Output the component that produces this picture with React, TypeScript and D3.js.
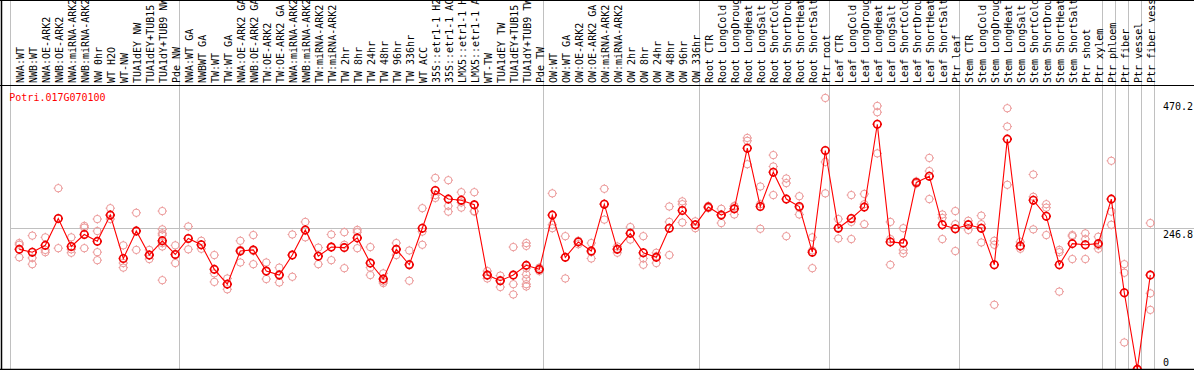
import React from 'react';
import * as d3 from 'd3';

const labels: string[] = [
  'NWA:WT', 'NWB:WT', 'NWA:OE-ARK2', 'NWB:OE-ARK2', 'NWA:miRNA-ARK2', 'NWB:miRNA-ARK2',
  'NW 0hr', 'WT H2O', 'WT-NW', 'TUA1dEY NW', 'TUA1dEY+TUB15 NW', 'TUA1dY+TUB9 NW', 'Pde NW',
  'NWA:WT GA', 'NWBWT GA', 'TW:WT', 'TW:WT GA', 'NWA:OE-ARK2 GA', 'NWB:OE-ARK2 GA',
  'TW:OE-ARK2', 'TW:OE-ARK2 GA', 'NWA:miRNA-ARK2 GA', 'NWB:miRNA-ARK2 GA', 'TW:miRNA-ARK2',
  'TW:miRNA-ARK2 GA', 'TW 2hr', 'TW 8hr', 'TW 24hr', 'TW 48hr', 'TW 96hr', 'TW 336hr', 'WT ACC',
  '35S::etr1-1 H2O', '35S::etr1-1 ACC', 'LMX5::etr1-1 H2O', 'LMX5::etr1-1 ACC', 'WT-TW',
  'TUA1dEY TW', 'TUA1dEY+TUB15 TW', 'TUA1dY+TUB9 TW', 'Pde TW',
  'OW:WT', 'OW:WT GA', 'OW:OE-ARK2', 'OW:OE-ARK2 GA', 'OW:miRNA-ARK2', 'OW:miRNA-ARK2 GA',
  'OW 2hr', 'OW 8hr', 'OW 24hr', 'OW 48hr', 'OW 96hr', 'OW 336hr',
  'Root CTR', 'Root LongCold', 'Root LongDrought', 'Root LongHeat', 'Root LongSalt',
  'Root ShortCold', 'Root ShortDrought', 'Root ShortHeat', 'Root ShortSalt', 'Ptr root',
  'Leaf CTR', 'Leaf LongCold', 'Leaf LongDrought', 'Leaf LongHeat', 'Leaf LongSalt',
  'Leaf ShortCold', 'Leaf ShortDrought', 'Leaf ShortHeat', 'Leaf ShortSalt', 'Ptr leaf',
  'Stem CTR', 'Stem LongCold', 'Stem LongDrought', 'Stem LongHeat', 'Stem LongSalt',
  'Stem ShortCold', 'Stem ShortDrought', 'Stem ShortHeat', 'Stem ShortSalt', 'Ptr shoot',
  'Ptr xylem', 'Ptr phloem', 'Ptr fiber', 'Ptr vessel', 'Ptr fiber vessel',
];

const means: number[] = [
  210, 205, 217, 264, 215, 236, 224, 270, 194, 242, 200, 225, 201,
  229, 218, 175, 149, 207, 209, 172, 165, 200, 244, 198, 214, 213, 230, 186, 158, 210, 183, 247,
  313, 298, 296, 288, 165, 155, 165, 182, 175,
  270, 196, 223, 207, 289, 210, 238, 204, 196, 247, 278, 253,
  284, 270, 281, 387, 285, 345, 298, 285, 205, 383,
  247, 264, 284, 429, 223, 221, 327, 338, 253, 246,
  253, 247, 183, 403, 216, 296, 268, 183, 220, 218, 220,
  298, 134, 0, 165,
];

const replicates: number[][] = [
  [221, 218, 196], [234, 195, 184], [231, 209, 205], [317, 264, 212], [231, 210, 204],
  [251, 248, 212], [263, 242, 205, 191], [282, 270, 263], [217, 186, 178], [274, 243, 209],
  [209, 200, 193], [277, 245, 238, 235, 221, 215, 156], [217, 201, 186],
  [250, 229, 210], [225, 218, 211], [200, 168, 153], [159, 149, 140], [225, 209, 187],
  [235, 207, 184], [187, 172, 158], [178, 166, 152], [236, 200, 162], [258, 243, 231],
  [213, 198, 184], [236, 214, 191], [240, 218, 177], [244, 240, 212], [214, 178, 165],
  [168, 154, 151], [221, 210, 200], [208, 184, 155], [282, 241, 218],
  [335, 300, 305], [331, 286, 276], [310, 292, 283], [310, 277, 276], [172, 164, 159],
  [164, 156, 144], [214, 149, 131], [221, 216, 182, 177, 166, 158, 149, 145], [178, 175, 172],
  [308, 253, 247], [233, 196, 159], [225, 224, 219], [221, 205, 194], [316, 290, 262],
  [215, 211, 204], [249, 238, 227], [233, 194, 183], [204, 198, 186], [285, 258, 200],
  [294, 289, 257], [259, 253, 247],
  [286, 284, 282], [281, 271, 256], [286, 285, 271], [405, 400, 359], [320, 289, 246],
  [375, 355, 305], [334, 326, 233], [303, 283, 271], [231, 208, 177], [475, 363, 308],
  [263, 248, 229], [305, 258, 228], [307, 289, 254], [461, 450, 378], [258, 228, 183],
  [247, 209, 203], [329, 328, 325], [370, 347, 298], [271, 265, 228], [277, 254, 207],
  [260, 254, 244], [269, 254, 222], [225, 218, 113], [457, 425, 323], [223, 215, 211],
  [341, 302, 245], [289, 283, 235], [209, 205, 136], [235, 233, 193], [238, 228, 193],
  [232, 217, 211],
  [365, 276, 253], [184, 169, 47], [0, 0, 0], [256, 133, 104],
];

const separators: number[] = [0, 13, 41, 53, 63, 73, 84, 85, 86, 87, 88];
const yTicks: number[] = [470.2, 246.8, 0];
const gridValues: number[] = [246.8];
const geneId = 'Potri.017G070100';

const FONT = '"DejaVu Sans Mono", monospace';

function Marker({ cx, cy, color, sw }: { cx: number; cy: number; color: string; sw: number }) {
  const r = 3.7;
  const t = 1;
  return (
    <g stroke={color} strokeWidth={sw} fill="none">
      <circle cx={cx} cy={cy} r={r} />
      <line x1={cx} x2={cx} y1={cy - r - t} y2={cy - r + 0.5} />
      <line x1={cx} x2={cx} y1={cy + r - 0.5} y2={cy + r + t} />
      <line x1={cx - r - t} x2={cx - r + 0.5} y1={cy} y2={cy} />
      <line x1={cx + r - 0.5} x2={cx + r + t} y1={cy} y2={cy} />
    </g>
  );
}

export default function App() {
  const W = 1194;
  const H = 370;
  const headerY = 85;
  const x = d3.scaleLinear().domain([0, labels.length]).range([10.5, 1154.5]);
  const cx = (i: number) => x(i + 0.5) + 2.3;
  const y = d3.scaleLinear().domain([0, 470.2]).range([369.3, 100.7]);
  const linePath = d3
    .line<number>()
    .x((_, i) => cx(i))
    .y((d) => y(d))(means) as string;

  return (
    <svg
      width={W}
      height={H}
      style={{ position: 'absolute', left: 0, top: 0, background: '#fff' }}
      fontFamily={FONT}
    >
      <rect x={0} y={0} width={W} height={H} fill="#fff" />
      {separators.map((s) => (
        <line key={'s' + s} x1={x(s)} x2={x(s)} y1={0} y2={369} stroke="#c0c0c0" strokeWidth={1} />
      ))}
      {gridValues.map((g) => (
        <line key={'g' + g} x1={10} x2={W} y1={Math.round(y(g)) + 0.5} y2={Math.round(y(g)) + 0.5} stroke="#c0c0c0" strokeWidth={1} />
      ))}
      {labels.map((l, i) => (
        <text
          key={'l' + i}
          transform={`translate(${cx(i) + 4.5},83) rotate(-90)`}
          fontSize={10}
          fill="#000"
        >
          {l}
        </text>
      ))}
      {replicates.map((arr, i) =>
        arr.map((v, j) => <Marker key={`r${i}-${j}`} cx={cx(i)} cy={y(v)} color="#ec9a9a" sw={1} />)
      )}
      <path d={linePath} fill="none" stroke="#ff0000" strokeWidth={1.1} />
      {means.map((v, i) => (
        <Marker key={'m' + i} cx={cx(i)} cy={y(v)} color="#f00000" sw={1.6} />
      ))}
      <text x={9.3} y={100.7} fontSize={10} fill="#ff0000">
        {geneId}
      </text>
      {yTicks.map((t) => (
        <text key={'t' + t} x={1163} y={Math.min(y(t) + 9.5, y(0) - 3.5)} fontSize={10} fill="#000">
          {t === 0 ? '0' : t.toFixed(1)}
        </text>
      ))}
      <line x1={0} x2={W} y1={0.5} y2={0.5} stroke="#000" strokeWidth={1} />
      <line x1={0} x2={W} y1={headerY + 0.5} y2={headerY + 0.5} stroke="#000" strokeWidth={1} />
      <line x1={1.5} x2={1.5} y1={0} y2={370} stroke="#000" strokeWidth={1.5} />
      <line x1={0} x2={W} y1={369.5} y2={369.5} stroke="#000" strokeWidth={1.5} />
    </svg>
  );
}
